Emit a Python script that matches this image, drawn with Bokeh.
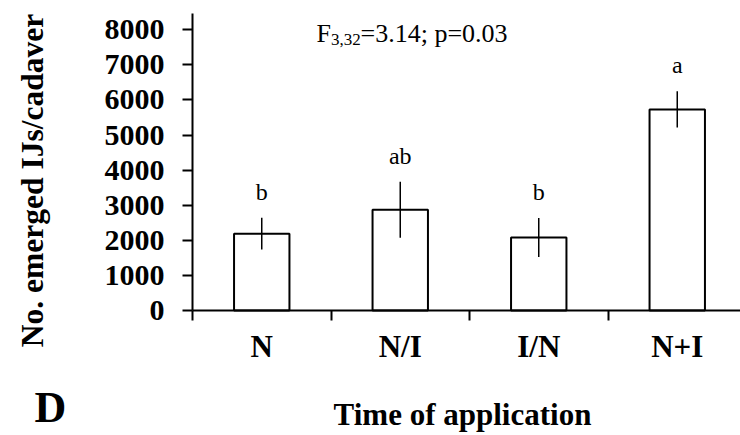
import math
from bokeh.plotting import figure
from bokeh.models import ColumnDataSource, Whisker, FixedTicker, Label, Range1d
from bokeh.embed import file_html
from bokeh.resources import INLINE
from bokeh.core.properties import value

# ---- data ----
categories = ["N", "N/I", "I/N", "N+I"]
means = [2190, 2870, 2080, 5730]
errors = [455, 800, 555, 515]
letters = ["b", "ab", "b", "a"]
y_ticks = [0, 1000, 2000, 3000, 4000, 5000, 6000, 7000, 8000]
y_axis_max = 8464
x_title = "Time of application"
y_title = "No. emerged IJs/cadaver"
panel_letter = "D"
stat_main = "F"
stat_sub = "3,32"
stat_rest = "=3.14; p=0.03"

SERIF = "Liberation Serif"
W, H = 740, 435
AX_X, AX_Y = 192, 310          # pixel position of the axes origin
CAT_PX = 138.5                 # pixels per category slot
PX_PER_UNIT = (AX_Y - 13) / y_axis_max

n = len(categories)
xpos = [i + 0.5 for i in range(n)]
src = ColumnDataSource(dict(
    x=xpos, top=means,
    upper=[m + e for m, e in zip(means, errors)],
    lower=[m - e for m, e in zip(means, errors)],
    letter=letters,
))

x_end = (W - AX_X) / CAT_PX
p = figure(width=W, height=H, output_backend="svg", toolbar_location=None,
           x_range=Range1d(-AX_X / CAT_PX, x_end),
           y_range=Range1d(-(H - AX_Y) / PX_PER_UNIT, AX_Y / PX_PER_UNIT),
           min_border=0)
p.outline_line_color = None
p.grid.visible = False

p.vbar(x="x", top="top", bottom=0, width=0.4, fill_color="white",
       line_color="black", line_width=2, source=src)
p.add_layout(Whisker(base="x", upper="upper", lower="lower", source=src,
                     line_color="black", line_width=1.5, level="annotation",
                     upper_head=None, lower_head=None))
p.text(x="x", y="upper", text="letter", y_offset=-26, text_align="center",
       text_baseline="alphabetic", text_font=value(SERIF),
       text_font_size="24px", text_color="black", source=src)

# y axis
ya = p.yaxis[0]
ya.fixed_location = 0
ya.bounds = (0, y_axis_max)
ya.ticker = FixedTicker(ticks=y_ticks, minor_ticks=[])
ya.major_tick_out = 10
ya.major_tick_in = 0
ya.major_tick_line_width = 2
ya.axis_line_width = 2
ya.major_label_text_font = SERIF
ya.major_label_text_font_style = "bold"
ya.major_label_text_font_size = "30px"
ya.major_label_text_color = "black"
ya.major_label_standoff = 18

# x axis
xa = p.xaxis[0]
xa.fixed_location = 0
xa.bounds = (0, x_end)
xa.ticker = FixedTicker(ticks=xpos, minor_ticks=list(range(n + 1)))
xa.major_label_overrides = {x: c for x, c in zip(xpos, categories)}
xa.major_tick_out = 0
xa.major_tick_in = 0
xa.minor_tick_out = 10
xa.minor_tick_in = 0
xa.minor_tick_line_width = 2
xa.axis_line_width = 2
xa.major_label_text_font = SERIF
xa.major_label_text_font_style = "bold"
xa.major_label_text_font_size = "31px"
xa.major_label_text_color = "black"
xa.major_label_standoff = 8

# titles as labels (screen units, origin at bottom-left of the canvas)
def lab(x, y, text, size, bold=False, angle=0.0, align="left"):
    p.add_layout(Label(x=x, y=y, x_units="screen", y_units="screen", text=text,
                       angle=angle, text_align=align, text_baseline="alphabetic",
                       text_font=SERIF, text_font_style="bold" if bold else "normal",
                       text_font_size=size, text_color="black"))

lab(32, 255, y_title, "31.5px", bold=True, angle=math.pi / 2, align="center")
lab(462, 21, x_title, "31px", bold=True, align="center")
lab(34, 28, panel_letter, "44px", bold=True)
lab(316, 402, stat_main, "26px")
lab(330.5, 396, stat_sub, "17px")
lab(360, 402, stat_rest, "26px")

open("out.html", "w").write(file_html(p, INLINE))
